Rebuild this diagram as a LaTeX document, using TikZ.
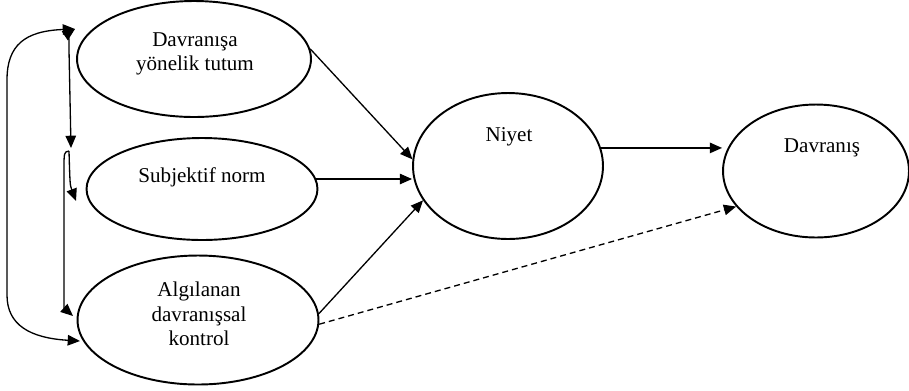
\documentclass[tikz,border=0pt]{standalone}
\usepackage{fontspec}
\setmainfont{Liberation Serif}
\usetikzlibrary{shapes.geometric}
\usetikzlibrary{arrows.meta}

\begin{document}
\begin{tikzpicture}[x=0.02cm,y=-0.02cm,
        >={Triangle[length=7pt,width=6pt]},
        oval/.style={draw,ellipse,line width=1.1pt,inner sep=0pt},
        txt/.style={align=center,font=\fontsize{12}{14}\selectfont},
        link/.style={->,line width=0.75pt}]
        \useasboundingbox (0,0) rectangle (909,390);
        % the five ovals
        \node[oval,minimum width=4.68cm,minimum height=2.32cm] (tutum) at (194,59) {};
        \node[oval,minimum width=4.62cm,minimum height=2.04cm] (norm) at (202,189) {};
        \node[oval,minimum width=4.82cm,minimum height=2.58cm] (kontrol) at (198,320) {};
        \node[oval,minimum width=3.8cm,minimum height=2.92cm] (niyet) at (508,166) {};
        \node[oval,minimum width=3.72cm,minimum height=2.66cm] (davranis) at (816,171) {};
        \node[txt] (tutum-t) at (195,54) {Davranışa\\yönelik tutum};
        \node[txt] (norm-t) at (202,177) {Subjektif norm};
        \node[txt] (kontrol-t) at (199,314) {Algılanan\\davranışsal\\kontrol};
        \node[txt] (niyet-t) at (509,137) {Niyet};
        \node[txt] (davranis-t) at (822,148) {Davranış};
        % correlations on the left
        \coordinate (tutum-in) at (75,29);
        \coordinate (norm-top) at (71,148);
        \coordinate (split) at (69,151);
        \coordinate (norm-in) at (76,201);
        \coordinate (kontrol-in) at (73,316);
        \coordinate (kontrol-low) at (80,341);
        \draw[link,<->] (tutum-in) .. controls (25,31) and (7,45) .. (7,80) -- (7,295) .. controls (7,325) and (30,338) .. (kontrol-low);
        \draw[link,<->] (tutum-in) .. controls (69,33) .. (69,50) -- (norm-top);
        \draw[link] (split) .. controls (70,185) .. (norm-in);
        \draw[link] (split) .. controls (64,152) .. (64,170) -- (64,295) .. controls (64,308) .. (kontrol-in);
        % paths to the right
        \draw[link] (tutum.5) -- (niyet.176);
        \draw[link] (norm.5) -- (norm.5 -| niyet.west);
        \draw[link] (kontrol.3) -- (niyet.202);
        \draw[link] (niyet.11) -- (niyet.11 -| davranis.west);
        \draw[link,dash pattern=on 3.4pt off 2.3pt] (kontrol.-2) -- (davranis.204);
\end{tikzpicture}
\end{document}
